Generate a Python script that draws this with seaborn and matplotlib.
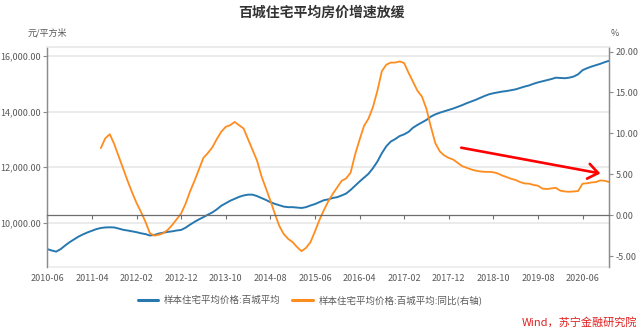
import numpy as np
import pandas as pd
import matplotlib
matplotlib.use("Agg")
import matplotlib.pyplot as plt
import seaborn as sns
from matplotlib.ticker import FuncFormatter, FixedLocator
from matplotlib.lines import Line2D

# ---- data -------------------------------------------------------------
months = pd.period_range("2010-06", "2020-12", freq="M").strftime("%Y-%m").tolist()

# 样本住宅平均价格:百城平均 (元/平方米), monthly from 2010-06
price = [
    9050, 9000, 8960, 9050, 9180, 9300, 9400, 9500, 9580, 9650,
    9710, 9770, 9810, 9830, 9835, 9830, 9790, 9745, 9720, 9690,
    9660, 9620, 9590, 9540, 9560, 9610, 9640, 9670, 9690, 9720,
    9740, 9820, 9930, 10030, 10120, 10200, 10290, 10370, 10480, 10610,
    10700, 10790, 10860, 10930, 10980, 11010, 11010, 10960, 10890, 10820,
    10740, 10680, 10630, 10580, 10560, 10560, 10545, 10530, 10560, 10620,
    10670, 10740, 10810, 10840, 10890, 10920, 10980, 11050, 11180, 11330,
    11480, 11620, 11760, 11960, 12200, 12500, 12750, 12920, 13010, 13120,
    13180, 13270, 13420, 13520, 13610, 13700, 13820, 13900, 13960, 14010,
    14060, 14110, 14170, 14230, 14300, 14360, 14420, 14490, 14560, 14620,
    14660, 14690, 14720, 14740, 14770, 14800, 14850, 14900, 14940, 15000,
    15050, 15090, 15130, 15170, 15220, 15210, 15200, 15220, 15260, 15340,
    15490, 15560, 15620, 15670, 15720, 15780, 15830,
]

# 同比 (%), monthly from 2011-06
yoy_start = "2011-06"
yoy = [
    8.2, 9.4, 9.9, 8.7, 7.2, 5.7, 4.2, 2.8, 1.5, 0.4,
    -0.8, -2.2, -2.5, -2.4, -2.2, -1.8, -1.2, -0.5, 0.2, 1.4,
    2.9, 4.2, 5.6, 7.0, 7.6, 8.3, 9.3, 10.2, 10.8, 11.0,
    11.4, 11.0, 10.6, 9.3, 8.0, 6.7, 4.8, 3.3, 1.8, 0.2,
    -1.3, -2.3, -2.9, -3.3, -3.9, -4.4, -4.0, -3.3, -2.0, -0.6,
    0.6, 1.7, 2.6, 3.4, 4.2, 4.5, 5.2, 7.4, 9.2, 10.9,
    11.8, 13.2, 15.2, 17.6, 18.4, 18.66, 18.66, 18.8, 18.6, 17.4,
    16.3, 15.2, 14.5, 13.0, 10.8, 8.8, 7.8, 7.3, 7.0, 6.8,
    6.4, 6.0, 5.8, 5.6, 5.45, 5.35, 5.3, 5.3, 5.25, 5.1,
    4.85, 4.65, 4.45, 4.3, 4.05, 3.88, 3.85, 3.7, 3.6, 3.25,
    3.2, 3.27, 3.35, 3.0, 2.9, 2.86, 2.9, 2.95, 3.85, 3.9,
    4.0, 4.05, 4.25, 4.2, 4.05,
]

tick_labels = ["2010-06", "2011-04", "2012-02", "2012-12", "2013-10", "2014-08",
               "2015-06", "2016-04", "2017-02", "2017-12", "2018-10", "2019-08",
               "2020-06"]
left_ticks = [10000, 12000, 14000, 16000]
right_ticks = [-5, 0, 5, 10, 15, 20]

title = "百城住宅平均房价增速放缓"
name_price = "样本住宅平均价格:百城平均"
name_yoy = "样本住宅平均价格:百城平均:同比(右轴)"
source = "Wind，苏宁金融研究院"

# ---- frames -----------------------------------------------------------
df_price = pd.DataFrame({"idx": np.arange(len(price)), "value": price})
s0 = months.index(yoy_start)
df_yoy = pd.DataFrame({"idx": np.arange(s0, s0 + len(yoy)), "value": yoy})

# ---- style ------------------------------------------------------------
sns.set_theme(style="white")
plt.rcParams["font.family"] = ["Noto Sans CJK SC", "DejaVu Sans"]
plt.rcParams["axes.unicode_minus"] = False

BLUE = "#2878B0"
ORANGE = "#FF8C1E"
GRID = "#EBEBEB"
AXIS = "#8C8C8C"
TXT = "#595959"

fig = plt.figure(figsize=(6.43, 3.31), dpi=100)
ax = fig.add_axes([47.3 / 643, 1 - 266.7 / 331, (609.3 - 47.3) / 643, 220 / 331])
ax2 = ax.twinx()

sns.lineplot(data=df_price, x="idx", y="value", ax=ax, color=BLUE, linewidth=1.4)
sns.lineplot(data=df_yoy, x="idx", y="value", ax=ax2, color=ORANGE, linewidth=1.3)

ax.set_xlim(0, len(months) - 1)
ax.set_ylim(8417, 16335)
ax2.set_ylim(-6.3, 20.6)

for a in (ax, ax2):
    a.set_xlabel("")
    a.set_ylabel("")

# horizontal grid on left scale
ax.yaxis.set_major_locator(FixedLocator(left_ticks))
ax.grid(axis="y", color=GRID, linewidth=1.4)
ax.grid(axis="x", visible=False)
ax.yaxis.set_major_formatter(FuncFormatter(lambda v, p: f"{v:,.2f}"))
ax.tick_params(axis="y", left=True, length=3, width=0.8, color=AXIS,
               labelsize=6.5, labelcolor=TXT, pad=1.5)

ax2.yaxis.set_major_locator(FixedLocator(right_ticks))
ax2.yaxis.set_major_formatter(FuncFormatter(lambda v, p: f"{v:.2f}"))
ax2.tick_params(axis="y", right=True, length=3, width=0.8, color=AXIS,
                labelsize=6.5, labelcolor=TXT, pad=1.5)
ax2.grid(False)

# x tick labels along the bottom, tick marks on the zero line of the right scale
tick_pos = [months.index(t) for t in tick_labels]
ax.set_xticks(tick_pos)
ax.set_xticklabels(tick_labels)
ax.tick_params(axis="x", bottom=False, length=0, labelsize=6.5,
               labelcolor=TXT, pad=5)

ax2.xaxis.set_visible(True)
ax2.spines["bottom"].set_position(("data", 0))
ax2.spines["bottom"].set_color("#6E6E6E")
ax2.spines["bottom"].set_linewidth(0.9)
ax2.tick_params(axis="x", bottom=True, labelbottom=False, length=3, width=0.8,
                color="#6E6E6E", direction="out")

# frame
for a in (ax, ax2):
    a.spines["top"].set_color(GRID)
    a.spines["top"].set_linewidth(1.2)
    a.spines["left"].set_color(AXIS)
    a.spines["right"].set_color(AXIS)
    a.spines["left"].set_linewidth(0.9)
    a.spines["right"].set_linewidth(0.9)
ax.spines["bottom"].set_color(GRID)
ax.spines["bottom"].set_linewidth(1.2)

# trend arrow
ax2.annotate("", xy=(124.0, 5.1), xytext=(92.8, 8.25),
             arrowprops=dict(arrowstyle="->,head_length=0.6,head_width=0.45",
                             color="#FF0000", lw=1.9, shrinkA=0, shrinkB=0))

# texts
fig.text(0.5, 1 - 13 / 331, title, ha="center", va="center", fontsize=10,
         fontweight="bold", color="#333333")
fig.text(28 / 643, 1 - 33 / 331, "元/平方米", ha="left", va="center",
         fontsize=6.5, color=TXT)
fig.text(611 / 643, 1 - 33 / 331, "%", ha="left", va="center",
         fontsize=6.5, color=TXT)

handles = [Line2D([], [], color=BLUE, lw=2.2), Line2D([], [], color=ORANGE, lw=2.2)]
fig.legend(handles, [name_price, name_yoy], loc="center",
           bbox_to_anchor=(310 / 643, 1 - 300 / 331), ncol=2, frameon=False,
           fontsize=6.8, handlelength=2.2, handletextpad=0.6, columnspacing=1.2,
           labelcolor=TXT)

fig.text(637 / 643, 1 - 322 / 331, source, ha="right", va="center",
         fontsize=8, color="#E02020", style="italic")

fig.savefig("out.png", dpi=100)
